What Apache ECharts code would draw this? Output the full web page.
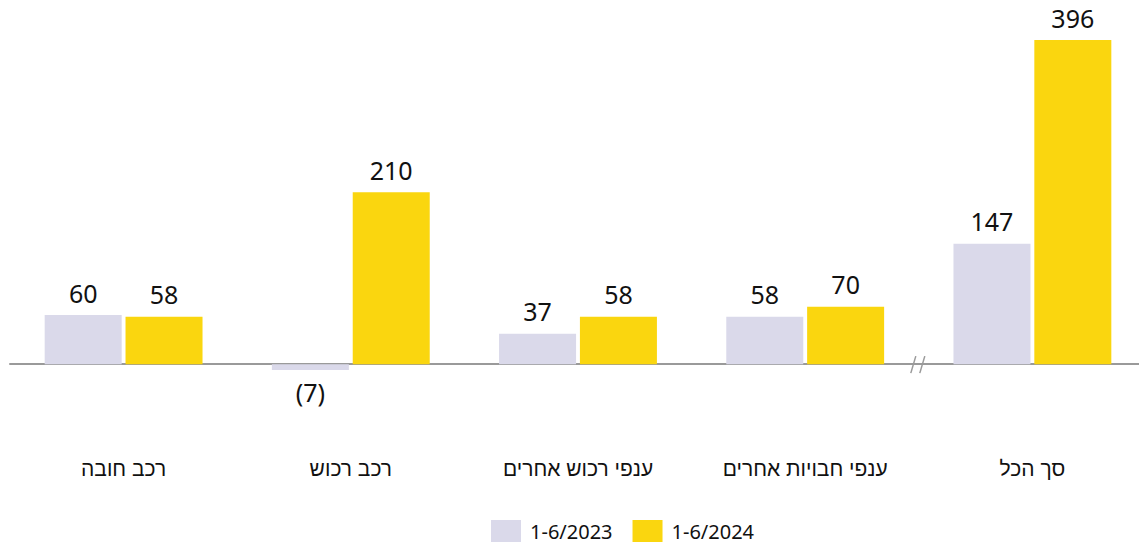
<!DOCTYPE html>
<html><head><meta charset="utf-8">
<script src="https://cdn.jsdelivr.net/npm/echarts@6/dist/echarts.min.js"></script>
<style>html,body{margin:0;padding:0;background:#fff}#c{width:1139px;height:544px}</style>
</head><body><div id="c"></div>
<script>
const categories = ['רכב חובה', 'רכב רכוש', 'ענפי רכוש אחרים', 'ענפי חבויות אחרים', 'סך הכל'];
const seriesNames = ['1-6/2023', '1-6/2024'];
const values2023 = [60, -7, 37, 58, 147];
const values2024 = [58, 210, 58, 70, 396];

const chart = echarts.init(document.getElementById('c'), null, { renderer: 'svg' });
const fmt = p => p.value < 0 ? '(' + Math.abs(p.value) + ')' : String(p.value);
const labelCfg = {
  show: true, position: 'top', distance: 10, formatter: fmt,
  fontFamily: 'Noto Sans', fontWeight: 400, fontSize: 25, color: '#111'
};
chart.setOption({
  animation: false,
  color: ['#dad9ea', '#fad60f'],
  grid: { left: 10, top: 40, width: 1136, bottom: 98, outerBoundsMode: 'none', containLabel: false },
  legend: {
    bottom: 2, left: 491, padding: 0, icon: 'rect', itemWidth: 30, itemHeight: 22, itemGap: 20,
    textStyle: { fontFamily: 'Noto Sans', fontSize: 20, color: '#111', padding: [0, 0, 0, 4] },
    data: seriesNames
  },
  xAxis: {
    type: 'category', data: categories,
    axisLine: { onZero: true, lineStyle: { color: '#9a9a9a', width: 2 } },
    axisTick: { show: false },
    axisLabel: { margin: 12, fontFamily: 'Liberation Sans', fontSize: 21, color: '#111' }
  },
  yAxis: { type: 'value', min: -100, max: 396, show: false, splitLine: { show: false } },
  series: [
    { name: seriesNames[0], type: 'bar', barWidth: 77, barGap: '5%', label: labelCfg,
      data: values2023.map(v => v < 0 ? { value: v, label: { position: 'bottom', distance: 10 } } : v) },
    { name: seriesNames[1], type: 'bar', data: values2024, barWidth: 77, barGap: '5%', label: labelCfg }
  ]
});
// axis break marker between 4th and 5th category
const p1 = chart.convertToPixel({ xAxisIndex: 0 }, 3);
const p2 = chart.convertToPixel({ xAxisIndex: 0 }, 4);
const y0 = chart.convertToPixel({ yAxisIndex: 0 }, 0);
const mx = (p1 + p2) / 2;
chart.setOption({
  graphic: [
    { type: 'rect', shape: { x: mx - 7, y: y0 - 3, width: 14, height: 6 }, style: { fill: '#fff' } },
    { type: 'line', shape: { x1: mx - 8, y1: y0 + 9, x2: mx - 3, y2: y0 - 8 }, style: { stroke: '#9a9a9a', lineWidth: 1.5 } },
    { type: 'line', shape: { x1: mx + 1, y1: y0 + 9, x2: mx + 6, y2: y0 - 8 }, style: { stroke: '#9a9a9a', lineWidth: 1.5 } }
  ]
});
</script></body></html>
